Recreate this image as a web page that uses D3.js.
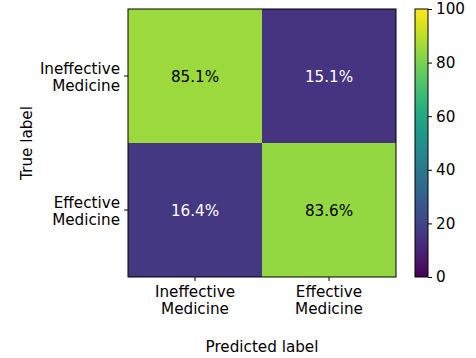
<!DOCTYPE html>
<html><head><meta charset="utf-8">
<script src="https://cdn.jsdelivr.net/npm/d3@7"></script>
<style>body{margin:0;background:#fff}text{font-family:"DejaVu Sans",sans-serif;fill:#000}</style>
</head><body>
<svg id="c" width="476" height="358"></svg>
<script>
const rowLabels = [["Ineffective","Medicine"],["Effective","Medicine"]];
const colLabels = [["Ineffective","Medicine"],["Effective","Medicine"]];
const values = [[85.1, 15.1],[16.4, 83.6]];
const cbTicks = [0,20,40,60,80,100];

const FS = 15.2, AFS = 15.2;
const svg = d3.select("#c");
const L=128,T=9,S=268;
const x = d3.scaleBand().domain([0,1]).range([L,L+S]);
const y = d3.scaleBand().domain([0,1]).range([T,T+S]);
const color = d3.scaleSequential(d3.interpolateViridis).domain([0,100]);

const cells = [];
values.forEach((r,i)=>r.forEach((v,j)=>cells.push({i,j,v})));
svg.selectAll("rect.cell").data(cells).enter().append("rect")
  .attr("x",d=>x(d.j)).attr("y",d=>y(d.i)).attr("width",x.bandwidth()).attr("height",y.bandwidth())
  .attr("fill",d=>color(d.v));
svg.selectAll("text.val").data(cells).enter().append("text")
  .attr("x",d=>x(d.j)+x.bandwidth()/2).attr("y",d=>y(d.i)+y.bandwidth()/2+5.5)
  .attr("text-anchor","middle").attr("font-size",AFS)
  .style("fill",d=>d.v<50?"#fff":"#000").text(d=>d.v.toFixed(1)+"%");
svg.append("rect").attr("x",L).attr("y",T).attr("width",S).attr("height",S)
  .attr("fill","none").attr("stroke","#000").attr("stroke-width",1);

// y ticks
[0,1].forEach(i=>{
  const cy=y(i)+y.bandwidth()/2;
  svg.append("line").attr("x1",L-4).attr("x2",L).attr("y1",cy).attr("y2",cy).attr("stroke","#000");
  const t=svg.append("text").attr("text-anchor","end").attr("font-size",FS);
  rowLabels[i].forEach((s,k)=>t.append("tspan").attr("x",L-8).attr("y",cy+(k===0?-2:15)).text(s));
});
// x ticks
[0,1].forEach(j=>{
  const cx=x(j)+x.bandwidth()/2;
  svg.append("line").attr("x1",cx).attr("x2",cx).attr("y1",T+S).attr("y2",T+S+4).attr("stroke","#000");
  const t=svg.append("text").attr("text-anchor","middle").attr("font-size",FS);
  colLabels[j].forEach((s,k)=>t.append("tspan").attr("x",cx).attr("y",T+S+(k===0?20:37)).text(s));
});
svg.append("text").attr("x",L+S/2).attr("y",352).attr("text-anchor","middle").attr("font-size",FS).text("Predicted label");
svg.append("text").attr("transform",`translate(32,${T+S/2}) rotate(-90)`).attr("text-anchor","middle").attr("font-size",FS).text("True label");

// colorbar
const cbX=415, cbW=13;
const cy = d3.scaleLinear().domain([0,100]).range([T+S,T]);
const defs=svg.append("defs");
const g=defs.append("linearGradient").attr("id","vg").attr("x1",0).attr("y1",1).attr("x2",0).attr("y2",0);
d3.range(0,1.0001,0.05).forEach(t=>g.append("stop").attr("offset",t).attr("stop-color",d3.interpolateViridis(t)));
svg.append("rect").attr("x",cbX).attr("y",T).attr("width",cbW).attr("height",S).attr("fill","url(#vg)").attr("stroke","#000").attr("stroke-width",1);
const ax=svg.append("g").attr("transform",`translate(${cbX+cbW},0)`)
  .call(d3.axisRight(cy).tickValues(cbTicks).tickSize(4).tickPadding(4));
ax.select(".domain").remove();
ax.selectAll("text").attr("font-size",FS).style("font-family","DejaVu Sans");
</script>
</body></html>
